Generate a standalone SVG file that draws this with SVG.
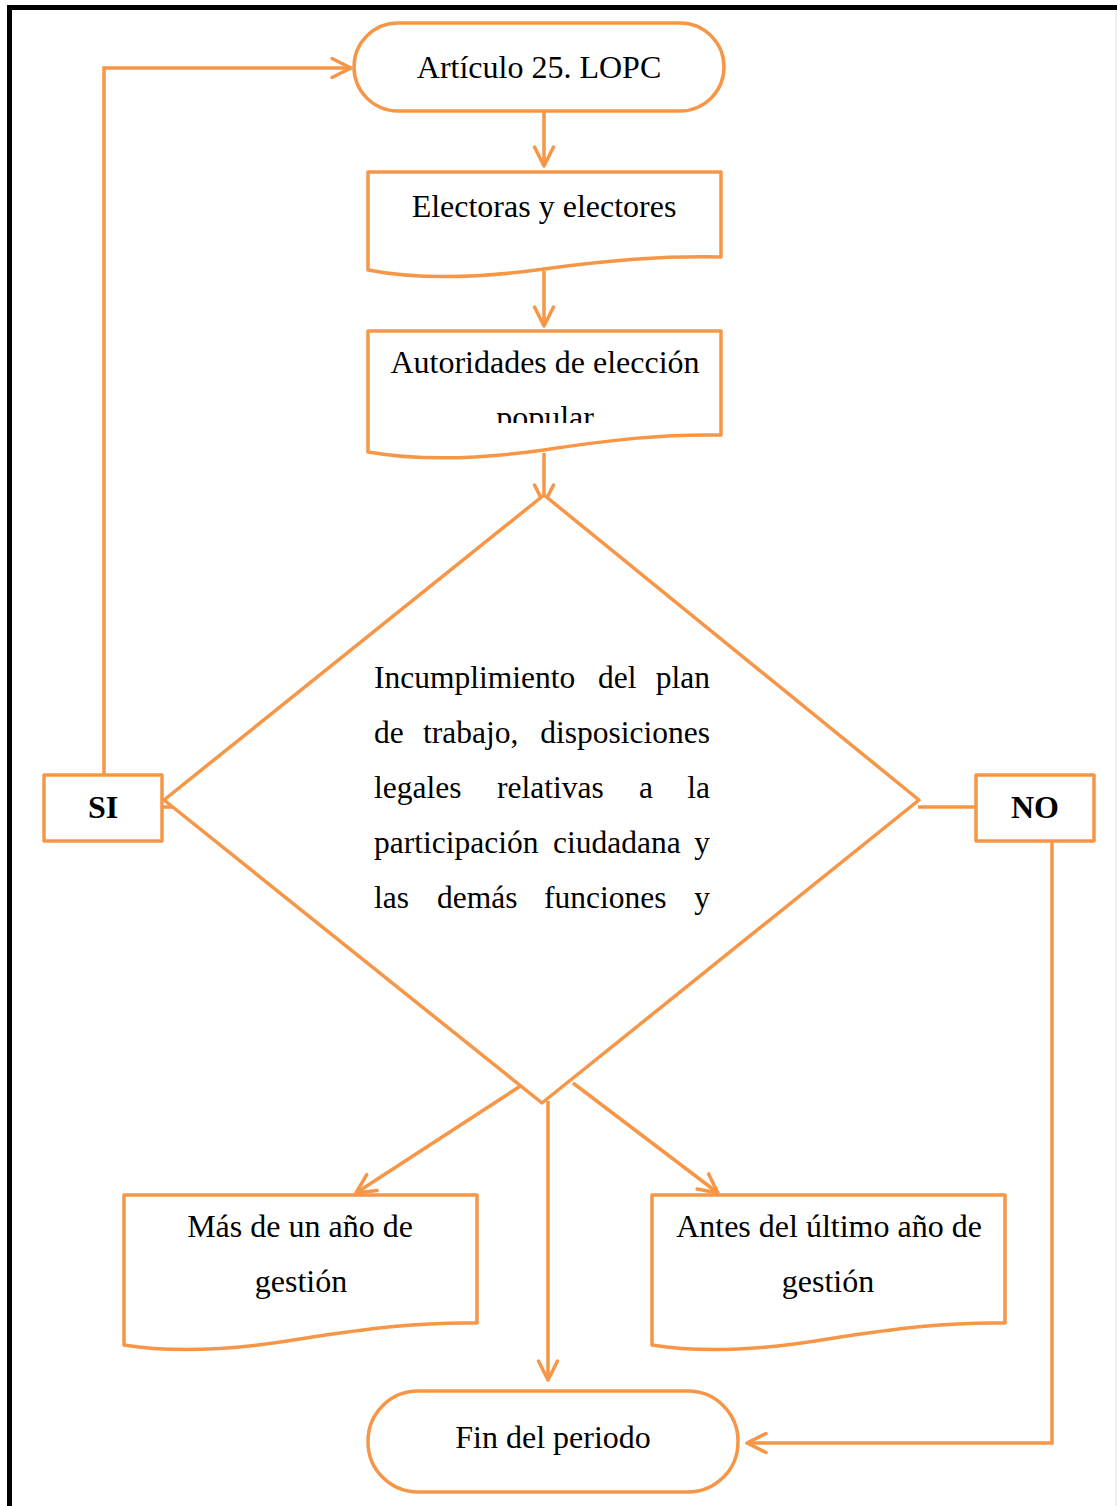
<svg xmlns="http://www.w3.org/2000/svg" width="1117" height="1506" viewBox="0 0 1117 1506">
<defs>
<style>
.s{fill:#fff;stroke:#F79646;stroke-width:3.5;stroke-linejoin:round}
.c{fill:none;stroke:#F79646;stroke-width:3.5}
.t{font-family:"Liberation Serif","Times New Roman",serif;font-size:32px;fill:#000}
.d{font-size:31.5px}
.m{text-anchor:middle}
.b{font-weight:bold}
</style>
<marker id="ah" viewBox="0 0 22 22" refX="20" refY="11" markerWidth="22" markerHeight="22" markerUnits="userSpaceOnUse" orient="auto" overflow="visible">
<path d="M1,1.5 L20,11 L1,20.5" fill="none" stroke="#F79646" stroke-width="3.5" stroke-linecap="round" stroke-linejoin="round"/>
</marker>
<clipPath id="cp"><rect x="368" y="331" width="353" height="92"/></clipPath>
</defs>
<rect width="1117" height="1506" fill="#fff"/>
<path d="M9.5,1506 V7.5 H1117" fill="none" stroke="#000" stroke-width="5"/>
<line x1="1116" y1="10" x2="1116" y2="1506" stroke="#ddd" stroke-width="1"/>

<g id="connectors">
<path class="c" d="M544,111 V166" marker-end="url(#ah)"/>
<path class="c" d="M544,271 V326" marker-end="url(#ah)"/>
<path class="c" d="M544,453 V504" marker-end="url(#ah)"/>
<path class="c" d="M104,775 V68 H351" marker-end="url(#ah)"/>
<path class="c" d="M162,807 H174"/>
<path class="c" d="M918,807 H976"/>
<path class="c" d="M1052,841 V1443 H747" marker-end="url(#ah)"/>
<path class="c" d="M522,1085 L356,1193" marker-end="url(#ah)"/>
<path class="c" d="M573,1083 L718,1193" marker-end="url(#ah)"/>
<path class="c" d="M548,1101 V1380" marker-end="url(#ah)"/>
</g>

<g id="n1">
<rect class="s" x="354" y="23" width="370" height="88" rx="44"/>
<text class="t m" x="539" y="78">Artículo 25. LOPC</text>
</g>

<g id="n2">
<path class="s" d="M368,172 H721 V257 C660,256 610,260 544,269 C480,278 420,280 368,270 Z"/>
<text class="t m" x="544" y="217">Electoras y electores</text>
</g>

<g id="n3">
<path class="s" d="M368,331 H721 V435 C660,434 610,440 544,450 C480,459 420,461 368,452 Z"/>
<text class="t m" x="545" y="373">Autoridades de elección</text>
<text class="t m" x="545" y="428" clip-path="url(#cp)">popular</text>
</g>

<g id="n4">
<path class="s" d="M544,495 L919,800 L542,1103 L164,800 Z"/>
<text class="t d" y="688"><tspan x="374">Incumplimiento</tspan><tspan x="598">del</tspan><tspan x="710" text-anchor="end">plan</tspan></text>
<text class="t d" y="743"><tspan x="374">de</tspan><tspan x="423">trabajo,</tspan><tspan x="710" text-anchor="end">disposiciones</tspan></text>
<text class="t d" y="798"><tspan x="374">legales</tspan><tspan x="497">relativas</tspan><tspan x="639">a</tspan><tspan x="710" text-anchor="end">la</tspan></text>
<text class="t d" y="853"><tspan x="374">participación</tspan><tspan x="553">ciudadana</tspan><tspan x="710" text-anchor="end">y</tspan></text>
<text class="t d" y="908"><tspan x="374">las</tspan><tspan x="437">demás</tspan><tspan x="544">funciones</tspan><tspan x="710" text-anchor="end">y</tspan></text>
</g>

<g id="n5">
<rect class="s" x="44" y="775" width="118" height="66"/>
<text class="t m b" x="103" y="818">SI</text>
</g>

<g id="n6">
<rect class="s" x="976" y="775" width="118" height="66"/>
<text class="t m b" x="1035" y="818">NO</text>
</g>

<g id="n7">
<path class="s" d="M124,1195 H477 V1323 C420,1322 370,1328 300,1339 C240,1349 180,1354 124,1345 Z"/>
<text class="t m" x="300" y="1237">Más de un año de</text>
<text class="t m" x="301" y="1292">gestión</text>
</g>

<g id="n8">
<path class="s" d="M652,1195 H1005 V1323 C948,1322 898,1328 828,1339 C768,1349 708,1354 652,1345 Z"/>
<text class="t m" x="829" y="1237">Antes del último año de</text>
<text class="t m" x="828" y="1292">gestión</text>
</g>

<g id="n9">
<rect class="s" x="368" y="1391" width="370" height="101" rx="50"/>
<text class="t m" x="553" y="1448">Fin del periodo</text>
</g>
</svg>
